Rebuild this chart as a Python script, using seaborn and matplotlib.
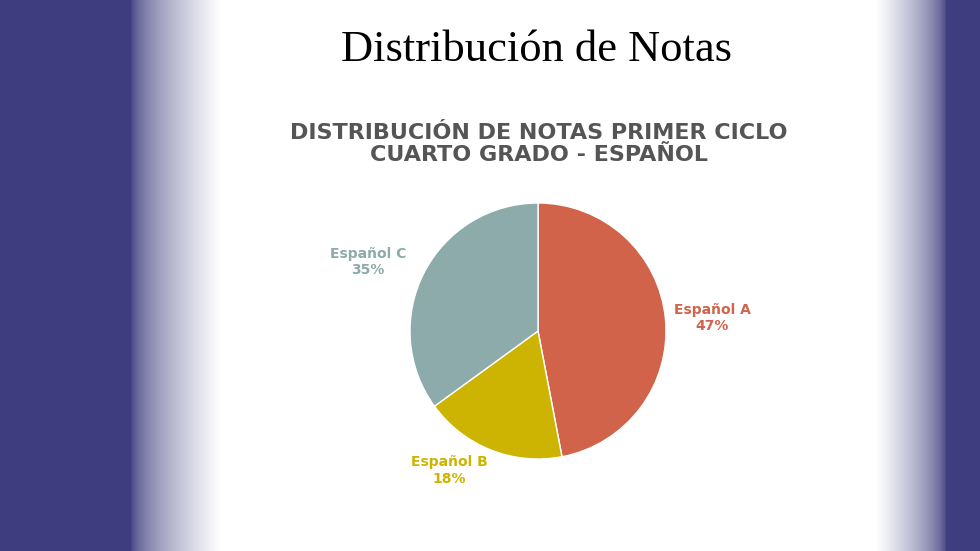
import numpy as np
import matplotlib
matplotlib.use("Agg")
import matplotlib.pyplot as plt
import seaborn as sns

sns.set_theme(style="white")

categories = ["Español A", "Español B", "Español C"]
shares = [47, 18, 35]
colors = ["#D0634A", "#CDB402", "#8CABAA"]

W, H = 980, 551
fig = plt.figure(figsize=(W / 100, H / 100), dpi=100)

# background: dark blue bands with a soft fade to the white panel
bg = fig.add_axes([0, 0, 1, 1])
x = np.arange(W)
left = np.clip((x - 130) / 90, 0, 1)
right = np.clip((945 - x) / 70, 0, 1)
w = np.minimum(left, right) ** 0.6
w[x < 130] = 0
w[x > 945] = 0
dark = np.array([0.24, 0.24, 0.50])
light = np.array([1.0, 1.0, 1.0])
row = dark[None, :] * (1 - w[:, None]) + light[None, :] * w[:, None]
img = np.repeat(row[None, :, :], H, axis=0)
bg.imshow(img, aspect="auto", extent=[0, W, H, 0])
bg.set_axis_off()

fig.text(536 / W, 1 - 50 / H, "Distribución de Notas", ha="center", va="center",
         fontsize=32, family="Liberation Serif", color="black")
fig.text(539 / W, 1 - 144 / H, "DISTRIBUCIÓN DE NOTAS PRIMER CICLO\nCUARTO GRADO - ESPAÑOL",
         ha="center", va="center", fontsize=16, fontweight="bold", color="#555555",
         linespacing=1.15)

# pie axes: centre at (538, 331), radius 128 px
size = 400
ax = fig.add_axes([(538 - size / 2) / W, 1 - (331 + size / 2) / H, size / W, size / H])
lim = size / 2 / 128
wedges, texts = ax.pie(shares, colors=colors, startangle=90, counterclock=False,
                       labels=[f"{c}\n{s}%" for c, s in zip(categories, shares)],
                       labeldistance=1.38,
                       wedgeprops=dict(edgecolor="white", linewidth=1),
                       textprops=dict(fontsize=10, fontweight="bold", ha="center"))
label_pos = [(1.36, 0.10), (-0.69, -1.09), (-1.33, 0.54)]
for t, c, p in zip(texts, colors, label_pos):
    t.set_color(c)
    t.set_ha("center")
    t.set_va("center")
    t.set_position(p)
ax.set_xlim(-lim, lim)
ax.set_ylim(-lim, lim)
ax.set_aspect("equal")
ax.set_axis_off()

fig.savefig("out.png", dpi=100)
